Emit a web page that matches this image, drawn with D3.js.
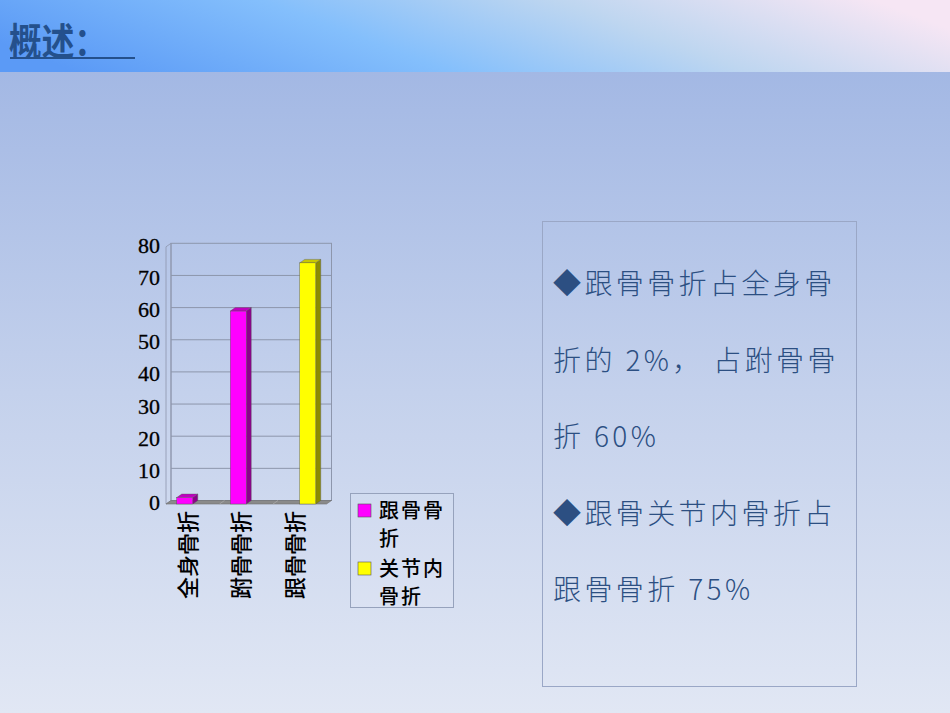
<!DOCTYPE html>
<html><head><meta charset="utf-8">
<script src="https://cdn.jsdelivr.net/npm/d3@7"></script>
<style>html,body{margin:0;padding:0;overflow:hidden;background:#c5d2ec}</style>
</head><body>
<script>
const categories = ["全身骨折", "跗骨骨折", "跟骨骨折"];
const seriesNames = ["跟骨骨折", "关节内骨折"];
const seriesA = [2, 60, null];
const seriesB = [null, null, 75];
const yTicks = [0, 10, 20, 30, 40, 50, 60, 70, 80];
const seriesColors = ["#ff00ff", "#ffff00"];
const seriesTop = ["#c000c0", "#c8c800"];
const seriesSide = ["#8c008c", "#8c8c00"];
const titleText = "概述：";
const noteLines = ["◆跟骨骨折占全身骨", "折的 2%， 占跗骨骨", "折 60%", "◆跟骨关节内骨折占", "跟骨骨折 75%"];

const W = 950, H = 713;
const svg = d3.select("body").append("svg").attr("width", W).attr("height", H);
const defs = svg.append("defs");
const hg = defs.append("linearGradient").attr("id", "hdr").attr("x1", "0").attr("y1", "0.6").attr("x2", "1").attr("y2", "0.4");
[["0", "#5b9af6"], ["0.38", "#84bffc"], ["0.68", "#bed6f0"], ["1", "#f6e6f4"]].forEach(s => hg.append("stop").attr("offset", s[0]).attr("stop-color", s[1]));
const bg = defs.append("linearGradient").attr("id", "body").attr("x1", "0").attr("y1", "0").attr("x2", "0").attr("y2", "1");
[["0", "#a3b8e4"], ["0.5", "#c4d1ec"], ["1", "#e1e7f4"]].forEach(s => bg.append("stop").attr("offset", s[0]).attr("stop-color", s[1]));

svg.append("rect").attr("x", 0).attr("y", 72).attr("width", W).attr("height", H - 72).attr("fill", "url(#body)");
svg.append("rect").attr("x", 0).attr("y", 0).attr("width", W).attr("height", 72).attr("fill", "url(#hdr)");

// title
svg.append("text").attr("transform", "translate(9,55) scale(0.86,1)").text(titleText)
  .attr("font-family", "Noto Sans CJK SC").attr("font-weight", "bold").attr("font-size", 38)
  .attr("fill", "#24508c");
svg.append("line").attr("x1", 10).attr("x2", 135).attr("y1", 58).attr("y2", 58)
  .attr("stroke", "#24508c").attr("stroke-width", 2);

// chart
const dx = 5, dy = -3.5;
const x = d3.scaleBand().domain(categories).range([166, 326.5]).padding(0);
const xs = d3.scaleBand().domain(seriesNames).range([-16, 16]).padding(0);
const y = d3.scaleLinear().domain([0, 80]).range([504, 246.8]);
const g = svg.append("g");

const x0 = x.range()[0], x1 = x.range()[1];
g.append("polygon").attr("points", [[x0, y(0)], [x0 + dx, y(0) + dy], [x0 + dx, y(80) + dy], [x0, y(80)]].join(" "))
  .attr("fill", "none").attr("stroke", "#8d96ac").attr("stroke-width", 0.8);
g.append("rect").attr("x", x0 + dx).attr("y", y(80) + dy).attr("width", x1 - x0).attr("height", y(0) - y(80))
  .attr("fill", "none").attr("stroke", "#8d96ac").attr("stroke-width", 1);
g.selectAll(".grid").data(yTicks.slice(1, -1)).join("line")
  .attr("x1", x0 + dx).attr("x2", x1 + dx).attr("y1", d => y(d) + dy).attr("y2", d => y(d) + dy)
  .attr("stroke", "#8d96ac").attr("stroke-width", 1);
g.append("polygon").attr("points", [[x0, y(0)], [x1, y(0)], [x1 + dx, y(0) + dy], [x0 + dx, y(0) + dy]].join(" "))
  .attr("fill", "#8a8a8a").attr("stroke", "#6e6e6e").attr("stroke-width", 0.6);
g.selectAll(".ftick").data(categories.slice(1)).join("line")
  .attr("x1", d => x(d)).attr("x2", d => x(d) + dx).attr("y1", y(0)).attr("y2", y(0) + dy)
  .attr("stroke", "#aaaaaa").attr("stroke-width", 0.8);

// y labels
g.selectAll(".ylab").data(yTicks).join("text")
  .attr("x", 160).attr("y", d => y(d) + 1).attr("text-anchor", "end").attr("dominant-baseline", "middle")
  .attr("font-family", "Liberation Serif").attr("font-size", 22).attr("fill", "#000")
  .attr("stroke", "#000").attr("stroke-width", 0.3).text(d => d);

// bars
const bars = [];
[seriesA, seriesB].forEach((vals, si) => vals.forEach((v, ci) => {
  if (v != null) bars.push({ si, cat: categories[ci], v });
}));
const bw = xs.bandwidth();
bars.forEach(b => {
  const bx = x(b.cat) + x.bandwidth() / 2 + xs(seriesNames[b.si]);
  const top = y(b.v), bot = y(0);
  g.append("polygon").attr("points", [[bx + bw, top], [bx + bw + dx, top + dy], [bx + bw + dx, bot + dy], [bx + bw, bot]].join(" "))
    .attr("fill", seriesSide[b.si]).attr("stroke", "#555").attr("stroke-width", 0.4);
  g.append("polygon").attr("points", [[bx, top], [bx + dx, top + dy], [bx + bw + dx, top + dy], [bx + bw, top]].join(" "))
    .attr("fill", seriesTop[b.si]).attr("stroke", "#555").attr("stroke-width", 0.4);
  g.append("rect").attr("x", bx).attr("y", top).attr("width", bw).attr("height", bot - top)
    .attr("fill", seriesColors[b.si]).attr("stroke", "#555").attr("stroke-width", 0.4);
});

// x labels
g.selectAll(".xlab").data(categories).join("text")
  .attr("transform", d => `translate(${x(d) + x.bandwidth() / 2 - 3},511) rotate(-90)`)
  .attr("text-anchor", "end").attr("dominant-baseline", "middle")
  .attr("font-family", "Noto Sans CJK SC").attr("font-weight", 500).attr("font-size", 22).attr("fill", "#000").text(d => d);

// legend
const lg = svg.append("g");
lg.append("rect").attr("x", 350.5).attr("y", 493.5).attr("width", 103).attr("height", 114)
  .attr("fill", "rgba(255,255,255,0.08)").attr("stroke", "#96a2bc").attr("stroke-width", 1);
seriesNames.forEach((n, i) => {
  const oy = 504 + i * 58;
  lg.append("rect").attr("x", 358).attr("y", oy).attr("width", 13).attr("height", 13)
    .attr("fill", seriesColors[i]).attr("stroke", "#555").attr("stroke-width", 0.6);
  const lines = [n.slice(0, 3), n.slice(3)];
  lines.forEach((t, j) => lg.append("text").attr("x", 379).attr("y", oy + 9 + j * 28)
    .attr("dominant-baseline", "middle").attr("font-family", "Noto Sans CJK SC").attr("font-weight", 500)
    .attr("font-size", 20).attr("letter-spacing", 2).attr("fill", "#000").text(t));
});

// note panel
svg.append("rect").attr("x", 542.5).attr("y", 221.5).attr("width", 314).attr("height", 465)
  .attr("fill", "none").attr("stroke", "#9aa7c6").attr("stroke-width", 1);
svg.selectAll(".note").data(noteLines).join("text")
  .attr("x", 553).attr("y", (d, i) => 294 + i * 76.6)
  .attr("font-family", "Noto Sans CJK SC").attr("font-weight", 300).attr("font-size", 28)
  .attr("letter-spacing", 3.4).attr("fill", "#2c4f82").text(d => d);
</script>
</body></html>
